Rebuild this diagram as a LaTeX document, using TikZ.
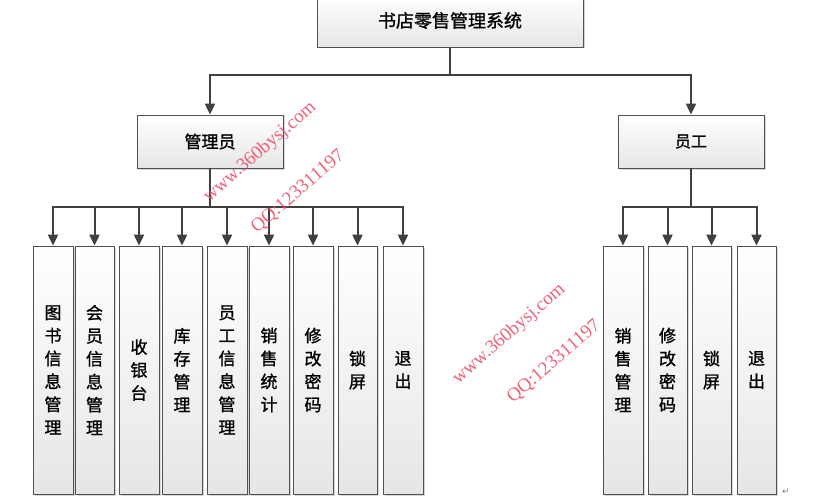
\documentclass[tikz,border=0pt]{standalone}
\usepackage{fontspec}
\setmainfont{Liberation Serif}
\newfontfamily\cjk[FakeBold=1.2]{Noto Sans CJK SC}
\newfontfamily\symfont{DejaVu Sans}
\usetikzlibrary{arrows.meta,shadows}
\definecolor{boxbot}{RGB}{230,230,230}
\definecolor{boxline}{RGB}{80,80,80}
\definecolor{conncol}{RGB}{64,64,64}
\definecolor{wmcol}{RGB}{236,72,98}
\begin{document}
\begin{tikzpicture}[x=1pt,y=-1pt,
  box/.style={draw=boxline, line width=0.8pt, top color=white, bottom color=boxbot,
    drop shadow={shadow xshift=1.5pt,shadow yshift=-1.5pt,opacity=0.3},
    inner sep=0pt, align=center},
  leaf/.style={box, minimum height=248pt, font=\cjk\fontsize{17}{23}\selectfont},
  conn/.style={draw=conncol, line width=2pt},
  arr/.style={conn, -{Triangle[length=11pt,width=10pt]}},
  wm/.style={text=wmcol, opacity=0.85, font=\fontsize{19}{19}\selectfont, rotate=41, inner sep=0pt}]
\useasboundingbox (0,0) rectangle (827,500);
\fill[white] (0,0) rectangle (827,500);

% top level
\node[box, minimum width=266pt, minimum height=53pt, font=\cjk\fontsize{18}{18}\selectfont] (top) at (450,20.5) {书店零售管理系统};
\node[box, minimum width=146pt, minimum height=53pt, font=\cjk\fontsize{17}{17}\selectfont] (admin) at (210,141.5) {管理员};
\node[box, minimum width=146pt, minimum height=53pt, font=\cjk\fontsize{16}{16}\selectfont] (emp) at (691,141.5) {员工};

% admin leaves
\node[leaf, minimum width=40pt] (a1) at (53,370) {图\\书\\信\\息\\管\\理};
\node[leaf, minimum width=39pt] (a2) at (94.5,370) {会\\员\\信\\息\\管\\理};
\node[leaf, minimum width=40pt] (a3) at (139,370) {收\\银\\台};
\node[leaf, minimum width=40pt] (a4) at (182,370) {库\\存\\管\\理};
\node[leaf, minimum width=40pt] (a5) at (227,370) {员\\工\\信\\息\\管\\理};
\node[leaf, minimum width=40pt] (a6) at (269,370) {销\\售\\统\\计};
\node[leaf, minimum width=40pt] (a7) at (313,370) {修\\改\\密\\码};
\node[leaf, minimum width=39pt] (a8) at (357.5,370) {锁\\屏};
\node[leaf, minimum width=40pt] (a9) at (403,370) {退\\出};

% employee leaves
\node[leaf, minimum width=40pt] (e1) at (623,370) {销\\售\\管\\理};
\node[leaf, minimum width=39pt] (e2) at (667.5,370) {修\\改\\密\\码};
\node[leaf, minimum width=39pt] (e3) at (711.5,370) {锁\\屏};
\node[leaf, minimum width=39pt] (e4) at (756.5,370) {退\\出};

% connectors
\coordinate (j0) at (450,75);
\draw[conn] (top.south) -- (j0);
\draw[arr] (j0) -| (admin.north);
\draw[arr] (j0) -| (emp.north);

\coordinate (ja) at (210,207);
\draw[conn] (admin.south) -- (ja);
\foreach \n in {a1,a2,a3,a4,a5,a6,a7,a8,a9}
  \draw[arr] (ja) -| (\n.north);

\coordinate (je) at (691,207);
\draw[conn] (emp.south) -- (je);
\foreach \n in {e1,e2,e3,e4}
  \draw[arr] (je) -| (\n.north);

% watermarks
\node[wm] (w1) at (260,152) {www.360bysj.com};
\node[wm] (q1) at (298,192) {QQ:123311197};
\node[wm] (w2) at (509,334) {www.360bysj.com};
\node[wm] (q2) at (554,362) {QQ:123311197};

% paragraph mark
\node[text=gray, font=\symfont\fontsize{9}{9}\selectfont, inner sep=0pt] (pm) at (786,492) {↵};
\end{tikzpicture}
\end{document}
